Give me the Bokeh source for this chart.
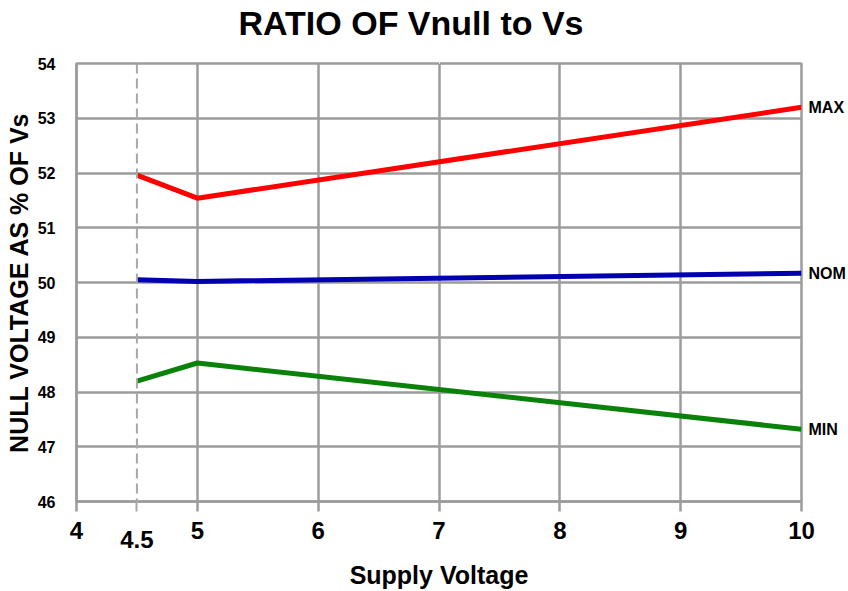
from bokeh.plotting import figure
from bokeh.models import Span, FixedTicker, LinearAxis
from bokeh.embed import file_html
from bokeh.resources import INLINE

supply_v = [4.5, 5, 10]
max_pct = [51.96, 51.54, 53.20]
nom_pct = [50.05, 50.02, 50.17]
min_pct = [48.20, 48.53, 47.32]
series_names = ["MAX", "NOM", "MIN"]
x_ticks = [4, 5, 6, 7, 8, 9, 10]
x_extra_tick = [4.5]
y_ticks = [46, 47, 48, 49, 50, 51, 52, 53, 54]

FONT = "Liberation Sans"
GRID = "#9c9c9c"

p = figure(width=848, height=591, output_backend="svg", toolbar_location=None,
           x_range=(4, 10), y_range=(46, 54),
           min_border_left=76, min_border_right=47, min_border_top=63, min_border_bottom=90)

xa = p.below[0]
ya = p.left[0]

p.title.text = "RATIO OF Vnull to Vs"
p.title.text_font = FONT
p.title.text_font_size = "34px"
p.title.text_font_style = "bold"
p.title.align = "left"
p.title.offset = 162
p.title.standoff = 0
p.title.text_color = "black"

# invisible spacer axis above the frame (pushes the title up)
spacer = LinearAxis(ticker=FixedTicker(ticks=[7]), axis_line_color=None,
                    major_tick_in=0, major_tick_out=22, major_tick_line_color="white",
                    major_tick_line_width=1, minor_tick_line_color=None,
                    major_label_standoff=0, major_label_text_color=None)
p.add_layout(spacer, "above")

xa.ticker = FixedTicker(ticks=x_ticks, minor_ticks=x_extra_tick)
ya.ticker = FixedTicker(ticks=y_ticks)
p.xgrid.ticker = FixedTicker(ticks=[5, 6, 7, 8, 9, 10])
p.ygrid.ticker = FixedTicker(ticks=y_ticks)
for g in (p.xgrid, p.ygrid):
    g.grid_line_color = GRID
    g.grid_line_width = 2.5
p.outline_line_color = GRID
p.outline_line_width = 2.5

for ax in (xa, ya):
    ax.axis_line_color = GRID
    ax.axis_line_width = 2.5
    ax.major_tick_in = 0
    ax.major_label_text_font = FONT
    ax.major_label_text_font_style = "bold"
    ax.major_label_text_color = "black"
    ax.axis_label_text_font = FONT
    ax.axis_label_text_font_style = "bold"
    ax.axis_label_text_color = "black"

xa.major_tick_out = 10
xa.major_tick_line_color = GRID
xa.major_tick_line_width = 2.5
xa.minor_tick_in = 0
xa.minor_tick_out = 10
xa.minor_tick_line_color = "#a8a8a8"
xa.minor_tick_line_width = 2
xa.major_label_text_font_size = "24px"
xa.major_label_standoff = 10

# second axis below carrying the lowered "4.5" label and the axis title
xa2 = LinearAxis(ticker=FixedTicker(ticks=x_extra_tick), axis_line_color=None,
                 major_tick_in=0, major_tick_out=0, major_tick_line_color=None,
                 minor_tick_line_color=None, major_label_standoff=-11,
                 major_label_text_font=FONT, major_label_text_font_style="bold",
                 major_label_text_font_size="24px", major_label_text_color="black",
                 axis_label="Supply Voltage", axis_label_standoff=10,
                 axis_label_text_font=FONT, axis_label_text_font_style="bold",
                 axis_label_text_font_size="25px", axis_label_text_color="black")
p.add_layout(xa2, "below")

ya.minor_tick_line_color = None
ya.major_tick_out = 0
ya.major_tick_line_color = None
ya.major_label_text_font_size = "16px"
ya.major_label_standoff = 21
ya.axis_label = "NULL VOLTAGE AS % OF Vs"
ya.axis_label_standoff = 2
ya.axis_label_text_font_size = "25px"

# series names on the right
ends = [max_pct[-1], nom_pct[-1], min_pct[-1]]
ra = LinearAxis(ticker=FixedTicker(ticks=ends),
                major_label_overrides={v: n for v, n in zip(ends, series_names)},
                axis_line_color=None, major_tick_in=0, major_tick_out=0,
                major_tick_line_color=None, minor_tick_line_color=None,
                major_label_standoff=7, major_label_text_font=FONT,
                major_label_text_font_style="bold", major_label_text_font_size="16px",
                major_label_text_color="black")
p.add_layout(ra, "right")

p.add_layout(Span(location=4.5, dimension="height", line_color="#a8a8a8",
                  line_width=2, line_dash="10 5"))

colors = ["#ff0000", "#0000b0", "#0a820a"]
for ys, c in zip([max_pct, nom_pct, min_pct], colors):
    p.line(supply_v, ys, line_color=c, line_width=5)

open("out.html", "w").write(file_html(p, INLINE))
